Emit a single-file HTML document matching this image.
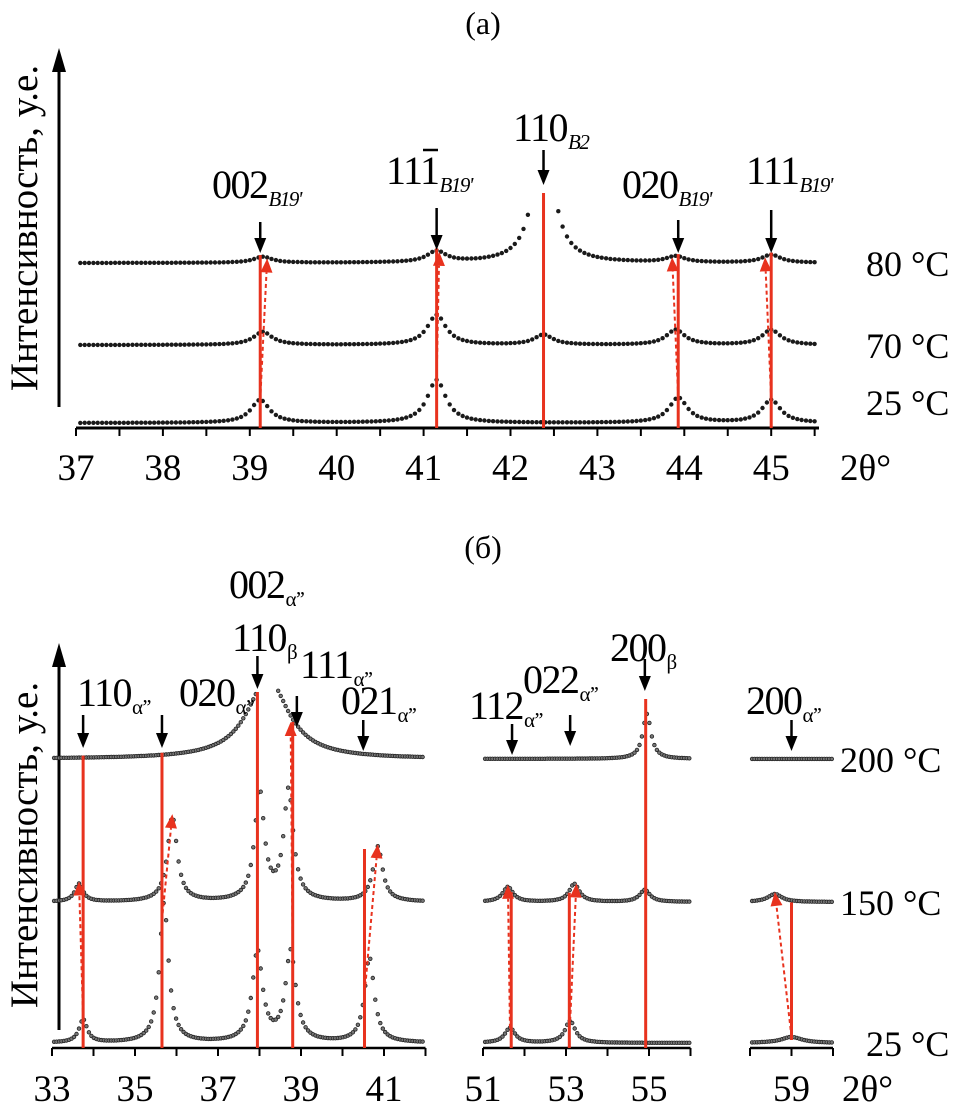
<!DOCTYPE html>
<html><head><meta charset="utf-8">
<style>
html,body{margin:0;padding:0;background:#fff;}
svg{display:block;font-family:"Liberation Serif",serif;}
</style></head>
<body>
<svg id="fig" width="965" height="1113" viewBox="0 0 965 1113">
<g id="static">
<text x="483" y="34" font-size="32" text-anchor="middle">(а)</text>
<text x="483" y="558" font-size="32" text-anchor="middle">(б)</text>
<line x1="59" y1="70" x2="59" y2="407" stroke="#000" stroke-width="3"/>
<polygon points="59,48 52,72 66,72" fill="#000"/>
<text transform="translate(37,228) rotate(-90)" font-size="39" text-anchor="middle">Интенсивность, у.е.</text>
<line x1="59" y1="665" x2="59" y2="1030" stroke="#000" stroke-width="3"/>
<polygon points="59,643 52,667 66,667" fill="#000"/>
<text transform="translate(37,845) rotate(-90)" font-size="39" text-anchor="middle">Интенсивность, у.е.</text>
</g>
<g id="plot"></g>
</svg>
<script>
// ---------- Panel (a) data ----------
const aTicks=[37,38,39,40,41,42,43,44,45];
const aTemps=['80 °C','70 °C','25 °C'];
const aPeaks80=[[39.15,6],[41.15,11],[42.38,140],[43.9,6],[45.0,8]];
const aPeaks70=[[39.15,13],[41.15,30],[42.38,10],[43.9,15],[45.0,15]];
const aPeaks25=[[39.12,23],[41.15,43],[43.93,25],[45.0,23]];
const aRedLines=[39.12,41.15,42.38,43.93,45.0];
const aDashFrom=[39.12,41.15,43.93,45.0];
const aDashTo=[39.2,41.18,43.86,44.93];
const aLabels=['002','111','110','020','111'];
const aSubs=["B19'","B19'","B2","B19'","B19'"];
const aArrowPos=[39.12,41.15,42.38,43.93,45.0];

// ---------- Panel (b) data ----------
const bTickLabels=[33,35,37,39,41,51,53,55,59];
const bTemps=['200 °C','150 °C','25 °C'];
const bPeaks200=[[38.2,80,0.6],[54.95,45,0.12]];
const bPeaks150=[[33.65,18,0.12],[35.9,85,0.14],[38.0,110,0.14],[38.7,110,0.14],[40.85,55,0.14],[51.6,15,0.15],[53.2,18,0.15],[54.9,12,0.15],[58.6,8,0.2]];
const bPeaks25=[[33.75,23,0.12],[35.7,140,0.13],[37.95,90,0.15],[38.75,90,0.15],[40.65,85,0.14],[51.65,15,0.15],[53.1,22,0.15],[59.0,6,0.3]];
const bRedLines=[33.75,35.65,37.95,38.8,40.53,51.68,53.08,54.92,59.0];
const bRedTops=[0,0,0,1,1,1,1,0,1];
const bDashFrom=[33.75,35.65,38.8,40.55,51.65,53.1,59.0];
const bDashTo=[33.65,35.9,38.75,40.85,51.6,53.25,58.6];
const bLabels=['110','020','002','110','111','021','112','022','200','200'];
const bSubs=['α’’','α’’','α’’','β','α’’','α’’','α’’','α’’','β','α’’'];
const bArrowPos=[33.75,35.65,37.95,null,38.9,40.5,51.7,53.1,54.9,59.0];

const NS='http://www.w3.org/2000/svg';
const plot=document.getElementById('plot');
function mk(tag,attrs,parent){const e=document.createElementNS(NS,tag);for(const k in attrs)e.setAttribute(k,attrs[k]);(parent||plot).appendChild(e);return e;}
const RED='#e8321e';

function xa(t){return 76+(t-37)*86.9;}
const aAxisY=428;
function aBase(i){return [263,345,423][i];}
const bSegs=[[33,42,52],[51,56,483],[58,60,750]];
function xb(t){for(const s of bSegs){if(t>=s[0]-0.01&&t<=s[1]+0.01)return s[2]+(t-s[0])*41.5;}return null;}
const bAxisY=1048;
function bBase(i){return [759,902,1043][i];}
function lor(t,peaks,g){let s=0;for(const p of peaks){const w=p[2]||g;const d=(t-p[0])/w;s+=p[1]/(1+d*d);}return s;}

// ---- Panel a axis ----
const axA=mk('line',{x1:xa(37),y1:aAxisY,x2:xa(45.55),y2:aAxisY,stroke:'#000','stroke-width':3});


for(let t=37;t<=45.5;t+=0.5){
  const tk=mk('line',{x1:xa(t),y1:aAxisY,x2:xa(t),y2:aAxisY+8,stroke:'#000','stroke-width':2});
  
  
}
aTicks.forEach(v=>{
  const tx=mk('text',{x:xa(v),y:480,'font-size':37,'text-anchor':'middle'});tx.textContent=v;
  
  
});
const ta=mk('text',{x:840,y:480,'font-size':37});ta.textContent='2θ°';



// ---- Panel a curves ----
[aPeaks80,aPeaks70,aPeaks25].forEach((pk,i)=>{
  const g=mk('g',{fill:'#1a1a1a'});
  
  
  for(let t=37.05;t<=45.52;t+=0.05){
    const y=aBase(i)-lor(t,pk,0.13);
    if(y<200)continue;
    mk('circle',{cx:xa(t).toFixed(1),cy:y.toFixed(1),r:2.2},g);
  }
  const tl=mk('text',{x:866,y:aBase(i)+[13,13,-8][i],'font-size':36});tl.textContent=aTemps[i];
  
  
});
aRedLines.forEach((t,i)=>{
  const top = (t===42.38)?193:aBase(0)-lor(t,aPeaks80,0.13)-2;
  const l=mk('line',{x1:xa(t),y1:aAxisY,x2:xa(t),y2:top,stroke:RED,'stroke-width':3});
  
  
});
function dashArrow(x1,y1,x2,y2,name){
  const ang=Math.atan2(y2-y1,x2-x1);const L=14,W=6;
  const bx=x2-L*Math.cos(ang),by=y2-L*Math.sin(ang);
  const l=mk('line',{x1:x1,y1:y1,x2:bx,y2:by,stroke:RED,'stroke-width':2,'stroke-dasharray':'4,3'});
  
  
  const px=-Math.sin(ang)*W,py=Math.cos(ang)*W;
  const h=mk('polygon',{points:`${x2},${y2} ${bx+px},${by+py} ${bx-px},${by-py}`,fill:RED});
  
  
}
aDashFrom.forEach((t,i)=>{
  dashArrow(xa(t),aBase(2)-lor(t,aPeaks25,0.13),xa(aDashTo[i]),aBase(0)-lor(aDashTo[i],aPeaks80,0.13)+1,'shift-arrow-a');
});
function blackArrow(x,y1,y2,name){
  const l=mk('line',{x1:x,y1:y1,x2:x,y2:y2-12,stroke:'#000','stroke-width':2.5});
  
  
  const h=mk('polygon',{points:`${x},${y2} ${x-6},${y2-15} ${x+6},${y2-15}`,fill:'#000'});
  
  
}
const aArrowY=[[222,253],[208,250],[150,185],[220,253],[210,253]];
const aLabXY=[[212,198],[386,184],[513,141],[622,198],[746,184]];
aArrowPos.forEach((t,i)=>{
  blackArrow(xa(t),aArrowY[i][0],aArrowY[i][1],'peak-marker-a');
  const tx=mk('text',{x:aLabXY[i][0],y:aLabXY[i][1],'font-size':40,'letter-spacing':'-1.5'});
  
  
  tx.textContent=aLabels[i];
  const s=mk('tspan',{'font-size':21,'font-style':'italic',dy:8,dx:1},tx);s.textContent=aSubs[i];
});
const ov=mk('line',{x1:423,y1:150,x2:438,y2:150,stroke:'#000','stroke-width':2.5});



// ---- Panel b axis ----
bSegs.forEach(s=>{
  const ax=mk('line',{x1:xb(s[0]),y1:bAxisY,x2:xb(s[1]),y2:bAxisY,stroke:'#000','stroke-width':2.5});
  
  
  for(let t=s[0];t<=s[1];t+=1){
    const tk=mk('line',{x1:xb(t),y1:bAxisY,x2:xb(t),y2:bAxisY+8,stroke:'#000','stroke-width':2});
    
    
  }
});
bTickLabels.forEach(v=>{
  const tx=mk('text',{x:xb(v),y:1101,'font-size':37,'text-anchor':'middle'});tx.textContent=v;
  
  
});
const tb=mk('text',{x:842,y:1101,'font-size':37});tb.textContent='2θ°';



// ---- Panel b curves ----
[bPeaks200,bPeaks150,bPeaks25].forEach((pk,i)=>{
  const g=mk('g',{fill:'#777',stroke:'#222','stroke-width':0.8});
  
  
  bSegs.forEach(s=>{
    for(let t=s[0]+0.05;t<=s[1]-0.02;t+=0.06){
      const y=bBase(i)-lor(t,pk,0.15);
      if(i===0&&t>37.97&&t<38.45)continue;
      if(y<650)continue;
      mk('circle',{cx:xb(t).toFixed(1),cy:y.toFixed(1),r:1.8},g);
    }
  });
  const tl=mk('text',{x:[840,840,866][i],y:bBase(i)+13,'font-size':36});tl.textContent=bTemps[i];
  
  
});
bRedLines.forEach((t,i)=>{
  let top;
  if(t===37.95) top=692; else if(t===54.92) top=699;
  else if(bRedTops[i]===0) top=bBase(0)-lor(t,bPeaks200,0.15)-2;
  else if(t===38.8) top=722; else if(t===40.53) top=849; else top=bBase(1)-lor(t,bPeaks150,0.15)+2;
  const bot=(t===59.0)?bBase(2)-3:bAxisY;
  const l=mk('line',{x1:xb(t),y1:bot,x2:xb(t),y2:top,stroke:RED,'stroke-width':3});
  
  
});
bDashFrom.forEach((t,i)=>{
  const to=bDashTo[i];
  let y2=bBase(1)-lor(to,bPeaks150,0.15)-2;
  if(to===38.75)y2=722;
  dashArrow(xb(t),bBase(2)-lor(t,bPeaks25,0.15),xb(to),Math.max(y2,700),'shift-arrow-b');
});
const bArrowY=[[715,748],[715,748],[656,689],null,[696,727],[720,751],[724,755],[715,746],[659,691],[720,751]];
const bLabXY=[[77,706],[179,706],[229,598],[232,651],[300,678],[341,714],[469,719],[523,693],[610,661],[746,714]];
bLabels.forEach((lab,i)=>{
  if(bArrowPos[i]!==null) blackArrow(xb(bArrowPos[i]),bArrowY[i][0],bArrowY[i][1],'peak-marker-b');
  const tx=mk('text',{x:bLabXY[i][0],y:bLabXY[i][1],'font-size':40,'letter-spacing':'-1.5'});
  
  
  tx.textContent=lab;
  const s=mk('tspan',{'font-size':21,dy:8,dx:1},tx);s.textContent=bSubs[i];
});
</script>
</body></html>
